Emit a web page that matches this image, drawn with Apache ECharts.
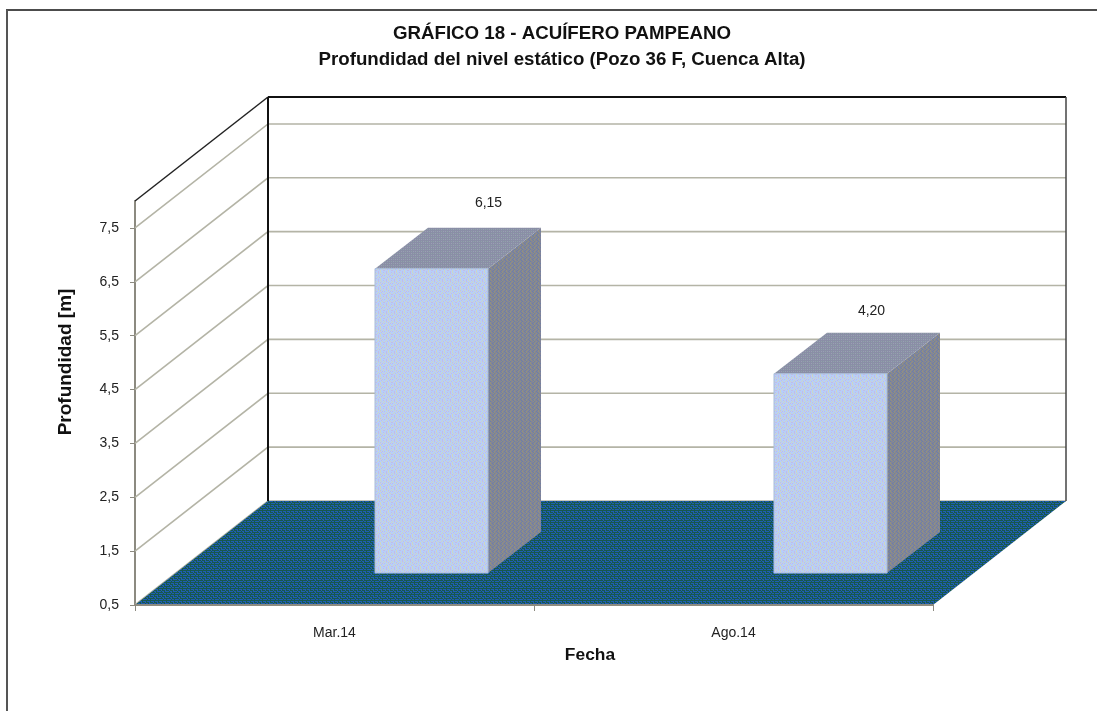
<!DOCTYPE html>
<html>
<head>
<meta charset="utf-8">
<style>
  html, body { margin: 0; padding: 0; background: #fff; }
  #chart { width: 1097px; height: 711px; }
</style>
<script src="https://cdn.jsdelivr.net/npm/echarts@6/dist/echarts.min.js"></script>
</head>
<body>
<div id="chart"></div>
<script>
const categories = ['Mar.14', 'Ago.14']
const values = [6.15, 4.2]
const yTicks = [0.5, 1.5, 2.5, 3.5, 4.5, 5.5, 6.5, 7.5]

const FONT = '"Liberation Sans", Arial, sans-serif'
// fake 3d: how far the back wall sits from the front plane
const DEPTH_X = 133
const DEPTH_Y = 104
// bars stand part way into the floor
const BAR_LIFT = 32
const BAR_SHIFT = 97
const BAR_WIDTH = 113
const BAR_DX = 53
const BAR_DY = 41
const LABEL_OFFSET = [[57, -66], [41, -63]]

// dithered fills like the old excel export
function pattern(rows, colors) {
  const c = document.createElement('canvas')
  c.width = rows[0].length
  c.height = rows.length
  const ctx = c.getContext('2d')
  rows.forEach((row, y) => {
    row.split('').forEach((k, x) => {
      ctx.fillStyle = colors[k]
      ctx.fillRect(x, y, 1, 1)
    })
  })
  return { image: c, repeat: 'repeat' }
}

const floorFill = pattern(
  ['gggggggg', 'bbgbbbgb', 'gbgggbgg', 'bgbbgbbb', 'gggbgggg', 'bbbgbbgb'],
  { g: '#17584e', b: '#1f5db2' }
)
const frontFill = pattern(
  ['aabacaab', 'cabaacaa', 'aacabaac', 'baaacaba', 'aacaabaa', 'acabaaca', 'baaacaab', 'aabacaaa'],
  { a: '#b6cff8', b: '#c4bbe6', c: '#d0d6c2' }
)
const sideFill = pattern(
  ['abacabca', 'cabaacba', 'abcaabac', 'bacabaca'],
  { a: '#828498', b: '#6f80a4', c: '#92917e' }
)
const topFill = pattern(
  ['aaaaaa', 'abacab', 'aaaaaa', 'acabac'],
  { a: '#8a8ea6', b: '#8fa3a8', c: '#9aa0b4' }
)

const chart = echarts.init(document.getElementById('chart'))

function renderGrid(params, api) {
  const box = params.coordSys
  const y = api.coord([0, api.value(1)])[1]
  return {
    type: 'polyline',
    shape: { points: [[box.x, y], [box.x + DEPTH_X, y - DEPTH_Y], [box.x + box.width + DEPTH_X, y - DEPTH_Y]] },
    style: { fill: null, stroke: '#b4b4a6', lineWidth: 1.6 },
    silent: true
  }
}

function renderWalls(params) {
  const box = params.coordSys
  const bx = box.x + DEPTH_X
  const by = box.y - DEPTH_Y
  const bottom = box.y + box.height - DEPTH_Y
  return {
    type: 'group',
    silent: true,
    children: [
      { type: 'line', shape: { x1: box.x, y1: box.y, x2: bx, y2: by }, style: { stroke: '#222', lineWidth: 1.5 } },
      { type: 'line', shape: { x1: bx, y1: by, x2: bx + box.width, y2: by }, style: { stroke: '#111', lineWidth: 2 } },
      { type: 'line', shape: { x1: bx, y1: by, x2: bx, y2: bottom }, style: { stroke: '#111', lineWidth: 2 } },
      { type: 'line', shape: { x1: bx + box.width, y1: by, x2: bx + box.width, y2: bottom }, style: { stroke: '#444', lineWidth: 1.5 } }
    ]
  }
}

function renderFloor(params) {
  const box = params.coordSys
  const bottom = box.y + box.height
  return {
    type: 'polygon',
    shape: {
      points: [
        [box.x, bottom],
        [box.x + DEPTH_X, bottom - DEPTH_Y],
        [box.x + box.width + DEPTH_X, bottom - DEPTH_Y],
        [box.x + box.width, bottom]
      ]
    },
    style: { fill: floorFill },
    silent: true
  }
}

function renderBar(params, api) {
  const i = api.value(0)
  const top = api.coord([i, api.value(1)])
  const base = api.coord([i, 0.5])
  const left = top[0] + BAR_SHIFT - BAR_WIDTH / 2
  const right = left + BAR_WIDTH
  const y0 = top[1] - BAR_LIFT
  const y1 = base[1] - BAR_LIFT
  const off = LABEL_OFFSET[i]
  return {
    type: 'group',
    silent: true,
    children: [
      {
        type: 'polygon',
        shape: { points: [[right, y0], [right + BAR_DX, y0 - BAR_DY], [right + BAR_DX, y1 - BAR_DY], [right, y1]] },
        style: { fill: sideFill }
      },
      {
        type: 'polygon',
        shape: { points: [[left, y0], [left + BAR_DX, y0 - BAR_DY], [right + BAR_DX, y0 - BAR_DY], [right, y0]] },
        style: { fill: topFill }
      },
      {
        type: 'rect',
        shape: { x: left, y: y0, width: BAR_WIDTH, height: y1 - y0 },
        style: { fill: frontFill, stroke: '#a9bcd8', lineWidth: 1 }
      },
      {
        type: 'text',
        x: left + BAR_WIDTH / 2 + off[0],
        y: y0 + off[1],
        style: {
          text: api.value(1).toFixed(2).replace('.', ','),
          font: '14px ' + FONT,
          fill: '#222',
          align: 'center',
          verticalAlign: 'middle'
        }
      }
    ]
  }
}

chart.setOption({
  backgroundColor: '#fff',
  animation: false,
  title: [
    {
      text: 'GRÁFICO 18 - ACUÍFERO PAMPEANO',
      left: 557,
      top: 19,
      textAlign: 'center',
      textStyle: { fontFamily: FONT, fontSize: 18.7, fontWeight: 'bold', color: '#111' }
    },
    {
      text: 'Profundidad del nivel estático (Pozo 36 F, Cuenca Alta)',
      left: 557,
      top: 45,
      textAlign: 'center',
      textStyle: { fontFamily: FONT, fontSize: 18.7, fontWeight: 'bold', color: '#111' }
    }
  ],
  grid: { left: 135, top: 201, width: 798, height: 404 },
  xAxis: {
    type: 'category',
    data: categories,
    z: 10,
    name: 'Fecha',
    nameLocation: 'middle',
    nameGap: 42,
    nameTextStyle: { fontFamily: FONT, fontSize: 17.4, fontWeight: 'bold', color: '#111', padding: [0, 0, 0, 112] },
    axisLine: { show: true, lineStyle: { color: '#8c8a80', width: 2 } },
    axisTick: { show: true, length: 6, alignWithLabel: false, lineStyle: { color: '#8c8a80' } },
    axisLabel: { fontFamily: FONT, fontSize: 14, color: '#222', margin: 21 }
  },
  yAxis: {
    type: 'value',
    min: 0.5,
    max: 8,
    name: 'Profundidad [m]',
    nameLocation: 'middle',
    nameGap: 60,
    nameRotate: 90,
    nameTextStyle: { fontFamily: FONT, fontSize: 19, fontWeight: 'bold', color: '#111', padding: [0, 0, 0, 82] },
    axisLine: { show: true, lineStyle: { color: '#8c8a80', width: 2 } },
    axisTick: { show: true, length: 5, customValues: yTicks, lineStyle: { color: '#8c8a80' } },
    axisLabel: {
      fontFamily: FONT,
      fontSize: 14,
      color: '#222',
      margin: 16,
      customValues: yTicks,
      formatter: v => String(v).replace('.', ',')
    },
    splitLine: { show: false }
  },
  graphic: [
    { type: 'line', shape: { x1: 6, y1: 10, x2: 1097, y2: 10 }, style: { stroke: '#111', lineWidth: 1.5 }, silent: true },
    { type: 'line', shape: { x1: 7, y1: 10, x2: 7, y2: 711 }, style: { stroke: '#555', lineWidth: 2 }, silent: true }
  ],
  series: [
    { type: 'custom', z: 1, silent: true, data: yTicks.map(v => [0, v]), renderItem: renderGrid },
    { type: 'custom', z: 2, silent: true, data: [[0, 8]], renderItem: renderWalls },
    { type: 'custom', z: 3, silent: true, data: [[0, 0.5]], renderItem: renderFloor },
    { type: 'custom', z: 4, silent: true, data: values.map((v, i) => [i, v]), renderItem: renderBar }
  ]
})
window.addEventListener('resize', () => chart.resize())
</script>
</body>
</html>
